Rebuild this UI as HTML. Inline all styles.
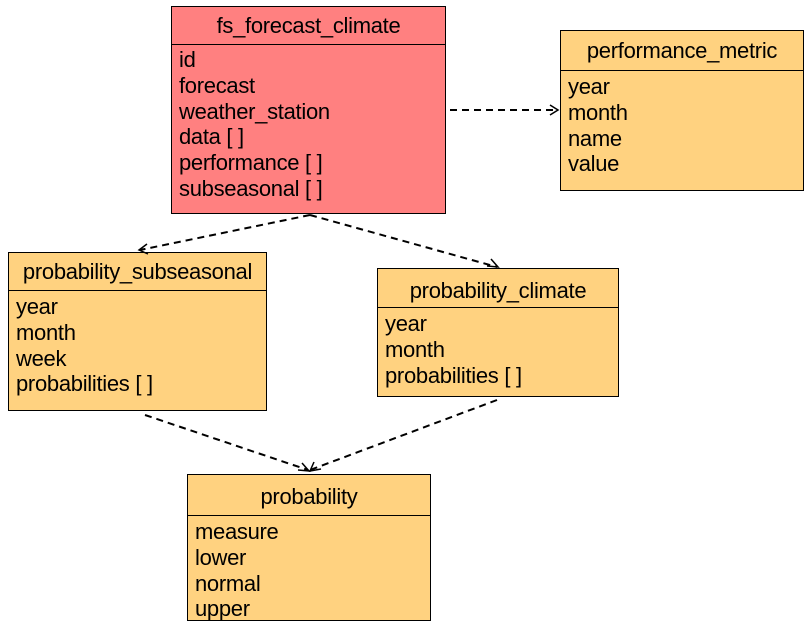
<!DOCTYPE html>
<html><head><style>
body{margin:0;width:811px;height:626px;background:#fff;position:relative;font-family:"Liberation Sans",sans-serif;overflow:hidden}
.b{position:absolute;border:1.3px solid #000;background:#ffd280;box-sizing:border-box}
.h{border-bottom:1.3px solid #000;text-align:center;font-size:22px;box-sizing:border-box;letter-spacing:-0.3px}
.r{font-size:22px;line-height:25.8px;padding-left:7px;padding-top:3px;letter-spacing:-0.3px}
svg{position:absolute;left:0;top:0}
</style></head><body>
<div class="b" style="left:171px;top:6px;width:275px;height:208px;background:#ff8080">
<div class="h" style="height:38px;line-height:38px">fs_forecast_climate</div>
<div class="r" style="padding-top:2px">id<br>forecast<br>weather_station<br>data [ ]<br>performance [ ]<br>subseasonal [ ]</div></div>
<div class="b" style="left:560px;top:30px;width:244px;height:161px">
<div class="h" style="height:40px;line-height:40px">performance_metric</div>
<div class="r">year<br>month<br>name<br>value</div></div>
<div class="b" style="left:8px;top:252px;width:259px;height:159px">
<div class="h" style="height:38px;line-height:38px">probability_subseasonal</div>
<div class="r">year<br>month<br>week<br>probabilities [ ]</div></div>
<div class="b" style="left:377px;top:268px;width:242px;height:129px">
<div class="h" style="height:39px;line-height:43px">probability_climate</div>
<div class="r">year<br>month<br>probabilities [ ]</div></div>
<div class="b" style="left:187px;top:474px;width:244px;height:147px">
<div class="h" style="height:41px;line-height:43px">probability</div>
<div class="r">measure<br>lower<br>normal<br>upper</div></div>
<svg width="811" height="626" fill="none" stroke="#000" stroke-width="2">
<g stroke-dasharray="7,5">
<path d="M450 110H556"/><path d="M310 215L140 250"/><path d="M310 215L497 267"/>
<path d="M145 415L308 470"/><path d="M497 400L310 470"/></g>
<g stroke-width="1.5">
<path d="M550 105L558 110L550 115"/>
<path d="M147 244L139 250L148 254"/>
<path d="M487 266L498 267L491 259"/>
<path d="M298 470L309 471L302 463"/>
<path d="M314 462L310 471L321 469"/></g>
</svg>
</body></html>
